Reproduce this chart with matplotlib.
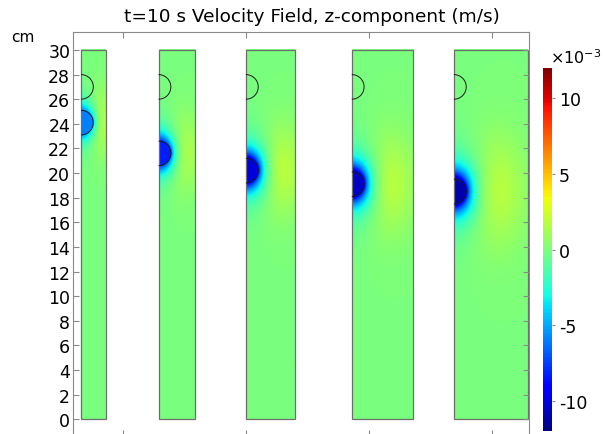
import numpy as np
import matplotlib.pyplot as plt
from matplotlib.patches import Rectangle, Arc

plt.rcParams['axes.unicode_minus'] = False

# columns (cm): left edge in plot coords, width, height
col_left = [-3.4, 2.9, 10.0, 18.6, 26.9]
col_width = [2, 3, 4, 5, 6]
col_height = 30.0

# ball (radius 1 cm)
ball_a = 1.0
start_z = 27.0
ball_z = [24.1, 21.6, 20.2, 19.1, 18.5]
ball_w = [-6.0, -8.3, -10.0, -10.5, -11.0]     # 1e-3 m/s, inside the ball
back_r = [1.6, 1.9, 2.7, 2.9, 3.3]              # position of return flow (yellow)
back_w = [2.8, 2.6, 2.6, 2.5, 2.4]              # 1e-3 m/s

cb_ticks = [-10, -5, 0, 5, 10]
y_ticks = list(range(0, 31, 2))
x_ticks = [0, 10, 20, 30]


def wz_field(W, zc, U, rp, A):
    r = np.linspace(0, W, int(W * 25) + 1)
    z = np.linspace(0, col_height, 751)
    R, Z = np.meshgrid(r, z)
    dz = Z - zc
    rho = np.hypot(R, dz)
    rs = np.maximum(rho, ball_a)
    a = ball_a
    # stokes flow round a sphere, damped by the walls
    st = 0.75 * a * (1 / rs + dz**2 / rs**3) + 0.25 * a**3 * (1 / rs**3 - 3 * dz**2 / rs**5)
    st = st * np.exp(-(rs - a) / (0.22 * W + 0.8))
    u = U * st
    bump = np.exp(-((R - rp) / (0.3 * W + 0.6))**2 - (dz / (0.5 * W + 1.6))**2)
    u = u + A * bump * (rho > a)
    return u


fig = plt.figure(figsize=(6.05, 4.35), dpi=100)
ax = fig.add_axes([73 / 605, -0.005, 456 / 605, 1 - 33 / 435 + 0.005])

for i in range(5):
    x0 = col_left[i]
    W = col_width[i]
    u = wz_field(W, ball_z[i], ball_w[i], back_r[i], back_w[i])
    im = ax.imshow(u, origin='lower', extent=[x0, x0 + W, 0, col_height],
                   cmap='jet', vmin=-12, vmax=12, interpolation='bilinear')
    ax.add_patch(Rectangle((x0, 0), W, col_height, fill=False,
                           edgecolor='#6e6e6e', lw=0.9))
    for zc in (start_z, ball_z[i]):
        ax.add_patch(Arc((x0, zc), 2 * ball_a, 2 * ball_a, theta1=-90, theta2=90,
                         color='#1a1a1a', lw=0.7))

ax.set_aspect('auto')
ax.set_xlim(-4.05, 33.0)
ax.set_ylim(-1.37, 31.46)
ax.set_yticks(y_ticks)
ax.set_xticks(x_ticks)
ax.set_xticklabels([])
ax.tick_params(direction='in', length=4, color='#8a8a8a', labelsize=12.5,
               top=True, right=True, bottom=True, left=True, pad=2)
for s in ax.spines.values():
    s.set_color('#8a8a8a')

cax = fig.add_axes([543 / 605, 1 - 432 / 435, 9 / 605, 363 / 435])
cb = fig.colorbar(im, cax=cax, ticks=cb_ticks)
cb.outline.set_visible(False)
cb.ax.tick_params(length=2, color='#8a8a8a', labelsize=12.5, pad=3)

fig.text(312 / 605, 1 - 17 / 435, 't=10 s Velocity Field, z-component (m/s)',
         ha='center', va='center', fontsize=13.3)
fig.text(23 / 605, 1 - 37 / 435, 'cm', ha='center', va='center', fontsize=11)
fig.text(550 / 605, 1 - 58 / 435, r'$\times$10$^{-3}$', ha='left', va='center',
         fontsize=11.5)

fig.savefig('out.png', dpi=100)
